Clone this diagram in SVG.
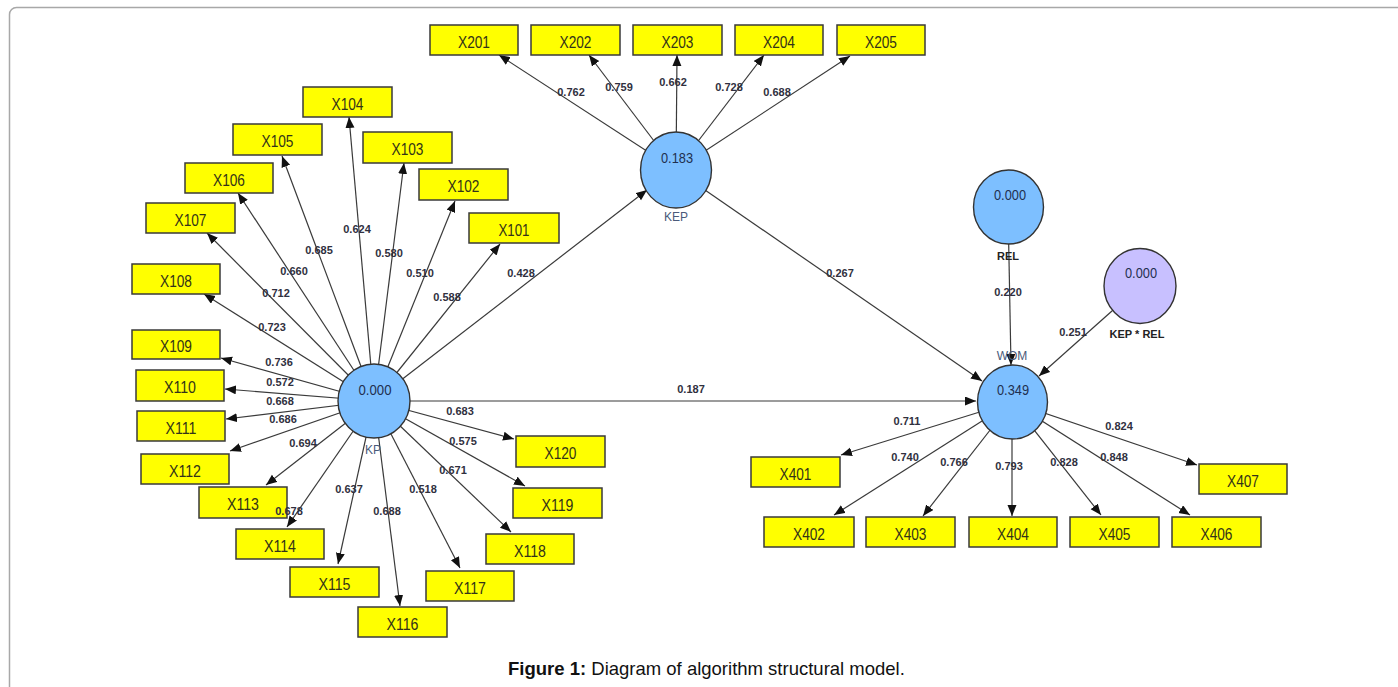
<svg xmlns="http://www.w3.org/2000/svg" width="1398" height="687" viewBox="0 0 1398 687">
<style>
.frame{fill:#fff;stroke:#a8a8a8;stroke-width:1.5}
.box{fill:#ffff00;stroke:#3a3a3a;stroke-width:1.5}
.bt{font-family:"Liberation Sans",Arial,sans-serif;font-size:16px;fill:#333318;text-anchor:middle}
.lv{fill:#7dbfff;stroke:#333;stroke-width:1.4}
.lv2{fill:#c8c0ff;stroke:#333;stroke-width:1.4}
.vt{font-family:"Liberation Sans",Arial,sans-serif;font-size:15.5px;fill:#1f2f4f;text-anchor:middle}
.nm{font-family:"Liberation Sans",Arial,sans-serif;font-size:12px;fill:#4a5a7a;text-anchor:middle}
.nmb{font-family:"Liberation Sans",Arial,sans-serif;font-size:11px;font-weight:bold;fill:#222;text-anchor:middle}
.ln{stroke:#3a3a3a;stroke-width:1.2;fill:none;marker-end:url(#ah)}
.cf{font-family:"Liberation Sans",Arial,sans-serif;font-size:11px;font-weight:bold;fill:#30303e;text-anchor:middle}
.cap{font-family:"Liberation Sans",Arial,sans-serif;font-size:18.5px;fill:#111}
</style>
<defs>
<marker id="ah" markerUnits="userSpaceOnUse" markerWidth="12" markerHeight="10" refX="11" refY="4.5" orient="auto">
<path d="M0,0 L11,4.5 L0,9 z" fill="#111"/>
</marker>
</defs>
<rect class="frame" x="9.5" y="7.5" width="1400" height="700" rx="7"/>
<g id="connectors">
<line class="ln" x1="374" y1="401" x2="500" y2="244"/>
<line class="ln" x1="374" y1="401" x2="455" y2="201"/>
<line class="ln" x1="374" y1="401" x2="404" y2="163"/>
<line class="ln" x1="374" y1="401" x2="349" y2="117"/>
<line class="ln" x1="374" y1="401" x2="282" y2="156"/>
<line class="ln" x1="374" y1="401" x2="238" y2="193"/>
<line class="ln" x1="374" y1="401" x2="207" y2="233"/>
<line class="ln" x1="374" y1="401" x2="204" y2="294"/>
<line class="ln" x1="374" y1="401" x2="221" y2="358"/>
<line class="ln" x1="374" y1="401" x2="225" y2="389"/>
<line class="ln" x1="374" y1="401" x2="226" y2="419"/>
<line class="ln" x1="374" y1="401" x2="230" y2="451"/>
<line class="ln" x1="374" y1="401" x2="266" y2="485"/>
<line class="ln" x1="374" y1="401" x2="287" y2="527"/>
<line class="ln" x1="374" y1="401" x2="338" y2="564"/>
<line class="ln" x1="374" y1="401" x2="400" y2="606"/>
<line class="ln" x1="374" y1="401" x2="460" y2="568"/>
<line class="ln" x1="374" y1="401" x2="511" y2="532"/>
<line class="ln" x1="374" y1="401" x2="525" y2="486"/>
<line class="ln" x1="374" y1="401" x2="514" y2="439"/>
<line class="ln" x1="374" y1="401" x2="647" y2="190"/>
<line class="ln" x1="374" y1="401" x2="976" y2="401"/>
<line class="ln" x1="676" y1="170" x2="499" y2="55"/>
<line class="ln" x1="676" y1="170" x2="589" y2="55"/>
<line class="ln" x1="676" y1="170" x2="677" y2="55"/>
<line class="ln" x1="676" y1="170" x2="764" y2="55"/>
<line class="ln" x1="676" y1="170" x2="850" y2="56"/>
<line class="ln" x1="676" y1="170" x2="982" y2="381"/>
<line class="ln" x1="1012" y1="402" x2="841" y2="455"/>
<line class="ln" x1="1012" y1="402" x2="834" y2="515"/>
<line class="ln" x1="1012" y1="402" x2="923" y2="516"/>
<line class="ln" x1="1012" y1="402" x2="1012" y2="516"/>
<line class="ln" x1="1012" y1="402" x2="1101" y2="515"/>
<line class="ln" x1="1012" y1="402" x2="1190" y2="515"/>
<line class="ln" x1="1012" y1="402" x2="1197" y2="465"/>
<line class="ln" x1="1008" y1="207" x2="1011" y2="365"/>
<line class="ln" x1="1140" y1="286" x2="1039" y2="376"/>
</g>
<g id="KP"><ellipse class="lv" cx="374" cy="401" rx="36" ry="37"/><text class="vt" x="375" y="395" textLength="33" lengthAdjust="spacingAndGlyphs">0.000</text><text class="nm" x="373" y="454">KP</text></g>
<g id="KEP"><ellipse class="lv" cx="676" cy="170" rx="35.5" ry="38"/><text class="vt" x="677" y="163" textLength="32" lengthAdjust="spacingAndGlyphs">0.183</text><text class="nm" x="676" y="221">KEP</text></g>
<g id="WOM"><ellipse class="lv" cx="1012.5" cy="402" rx="35" ry="37"/><text class="vt" x="1013" y="395" textLength="32" lengthAdjust="spacingAndGlyphs">0.349</text><text class="nm" x="1012" y="360">WOM</text></g>
<g id="REL"><ellipse class="lv" cx="1008.5" cy="207" rx="35" ry="37"/><text class="vt" x="1010" y="200" textLength="32" lengthAdjust="spacingAndGlyphs">0.000</text><text class="nmb" x="1008" y="260">REL</text></g>
<g id="KEPxREL"><ellipse class="lv2" cx="1140" cy="286" rx="36" ry="37.5"/><text class="vt" x="1141" y="278" textLength="32" lengthAdjust="spacingAndGlyphs">0.000</text><text class="nmb" x="1137" y="338">KEP * REL</text></g>
<g id="X201"><rect class="box" x="430" y="25" width="88" height="30"/><text class="bt" x="474" y="47.5" textLength="32" lengthAdjust="spacingAndGlyphs">X201</text></g>
<g id="X202"><rect class="box" x="531" y="25" width="89" height="30"/><text class="bt" x="575.5" y="47.5" textLength="32" lengthAdjust="spacingAndGlyphs">X202</text></g>
<g id="X203"><rect class="box" x="633" y="25" width="89" height="30"/><text class="bt" x="677.5" y="47.5" textLength="32" lengthAdjust="spacingAndGlyphs">X203</text></g>
<g id="X204"><rect class="box" x="735" y="25" width="88" height="30"/><text class="bt" x="779" y="47.5" textLength="32" lengthAdjust="spacingAndGlyphs">X204</text></g>
<g id="X205"><rect class="box" x="837" y="25" width="88" height="30"/><text class="bt" x="881" y="47.5" textLength="32" lengthAdjust="spacingAndGlyphs">X205</text></g>
<g id="X104"><rect class="box" x="303" y="87" width="89" height="30"/><text class="bt" x="347.5" y="109.5" textLength="32" lengthAdjust="spacingAndGlyphs">X104</text></g>
<g id="X105"><rect class="box" x="233" y="124" width="89" height="31"/><text class="bt" x="277.5" y="147" textLength="32" lengthAdjust="spacingAndGlyphs">X105</text></g>
<g id="X103"><rect class="box" x="363" y="132" width="89" height="31"/><text class="bt" x="407.5" y="155" textLength="32" lengthAdjust="spacingAndGlyphs">X103</text></g>
<g id="X106"><rect class="box" x="185" y="163" width="88" height="30"/><text class="bt" x="229" y="185.5" textLength="32" lengthAdjust="spacingAndGlyphs">X106</text></g>
<g id="X102"><rect class="box" x="419" y="169" width="89" height="31"/><text class="bt" x="463.5" y="192" textLength="32" lengthAdjust="spacingAndGlyphs">X102</text></g>
<g id="X107"><rect class="box" x="146" y="203" width="89" height="30"/><text class="bt" x="190.5" y="225.5" textLength="32" lengthAdjust="spacingAndGlyphs">X107</text></g>
<g id="X101"><rect class="box" x="469" y="213" width="90" height="30"/><text class="bt" x="514" y="235.5" textLength="31" lengthAdjust="spacingAndGlyphs">X101</text></g>
<g id="X108"><rect class="box" x="132" y="264" width="88" height="30"/><text class="bt" x="176" y="286.5" textLength="32" lengthAdjust="spacingAndGlyphs">X108</text></g>
<g id="X109"><rect class="box" x="132" y="330" width="88" height="29"/><text class="bt" x="176" y="352" textLength="32" lengthAdjust="spacingAndGlyphs">X109</text></g>
<g id="X110"><rect class="box" x="136" y="370" width="88" height="31"/><text class="bt" x="180" y="393" textLength="32" lengthAdjust="spacingAndGlyphs">X110</text></g>
<g id="X111"><rect class="box" x="137" y="411" width="88" height="30"/><text class="bt" x="181" y="433.5" textLength="31" lengthAdjust="spacingAndGlyphs">X111</text></g>
<g id="X112"><rect class="box" x="141" y="454" width="88" height="30"/><text class="bt" x="185" y="476.5" textLength="32" lengthAdjust="spacingAndGlyphs">X112</text></g>
<g id="X113"><rect class="box" x="199" y="487" width="88" height="31"/><text class="bt" x="243" y="510" textLength="32" lengthAdjust="spacingAndGlyphs">X113</text></g>
<g id="X114"><rect class="box" x="236" y="529" width="88" height="30"/><text class="bt" x="280" y="551.5" textLength="32" lengthAdjust="spacingAndGlyphs">X114</text></g>
<g id="X115"><rect class="box" x="290" y="567" width="89" height="30"/><text class="bt" x="334.5" y="589.5" textLength="32" lengthAdjust="spacingAndGlyphs">X115</text></g>
<g id="X116"><rect class="box" x="358" y="607" width="89" height="30"/><text class="bt" x="402.5" y="629.5" textLength="32" lengthAdjust="spacingAndGlyphs">X116</text></g>
<g id="X117"><rect class="box" x="426" y="571" width="88" height="30"/><text class="bt" x="470" y="593.5" textLength="32" lengthAdjust="spacingAndGlyphs">X117</text></g>
<g id="X118"><rect class="box" x="486" y="534" width="88" height="30"/><text class="bt" x="530" y="556.5" textLength="32" lengthAdjust="spacingAndGlyphs">X118</text></g>
<g id="X119"><rect class="box" x="513" y="488" width="89" height="30"/><text class="bt" x="557.5" y="510.5" textLength="32" lengthAdjust="spacingAndGlyphs">X119</text></g>
<g id="X120"><rect class="box" x="516" y="436" width="89" height="31"/><text class="bt" x="560.5" y="459" textLength="32" lengthAdjust="spacingAndGlyphs">X120</text></g>
<g id="X401"><rect class="box" x="751" y="457" width="89" height="30"/><text class="bt" x="795.5" y="479.5" textLength="32" lengthAdjust="spacingAndGlyphs">X401</text></g>
<g id="X402"><rect class="box" x="764" y="517" width="90" height="30"/><text class="bt" x="809" y="539.5" textLength="32" lengthAdjust="spacingAndGlyphs">X402</text></g>
<g id="X403"><rect class="box" x="866" y="517" width="89" height="30"/><text class="bt" x="910.5" y="539.5" textLength="32" lengthAdjust="spacingAndGlyphs">X403</text></g>
<g id="X404"><rect class="box" x="969" y="517" width="88" height="30"/><text class="bt" x="1013" y="539.5" textLength="32" lengthAdjust="spacingAndGlyphs">X404</text></g>
<g id="X405"><rect class="box" x="1070" y="517" width="89" height="30"/><text class="bt" x="1114.5" y="539.5" textLength="32" lengthAdjust="spacingAndGlyphs">X405</text></g>
<g id="X406"><rect class="box" x="1172" y="517" width="89" height="30"/><text class="bt" x="1216.5" y="539.5" textLength="32" lengthAdjust="spacingAndGlyphs">X406</text></g>
<g id="X407"><rect class="box" x="1199" y="464" width="88" height="30"/><text class="bt" x="1243" y="486.5" textLength="32" lengthAdjust="spacingAndGlyphs">X407</text></g>
<g id="connector-labels">
<text class="cf" x="357" y="233">0.624</text>
<text class="cf" x="319" y="254">0.685</text>
<text class="cf" x="389" y="257">0.580</text>
<text class="cf" x="294" y="275">0.660</text>
<text class="cf" x="420" y="277">0.510</text>
<text class="cf" x="276" y="297">0.712</text>
<text class="cf" x="447" y="301">0.588</text>
<text class="cf" x="521" y="277">0.428</text>
<text class="cf" x="272" y="331">0.723</text>
<text class="cf" x="279" y="366">0.736</text>
<text class="cf" x="280" y="386">0.572</text>
<text class="cf" x="280" y="405">0.668</text>
<text class="cf" x="283" y="423">0.686</text>
<text class="cf" x="303" y="447">0.694</text>
<text class="cf" x="289" y="515">0.678</text>
<text class="cf" x="349" y="493">0.637</text>
<text class="cf" x="387" y="515">0.688</text>
<text class="cf" x="423" y="493">0.518</text>
<text class="cf" x="453" y="474">0.671</text>
<text class="cf" x="463" y="445">0.575</text>
<text class="cf" x="460" y="415">0.683</text>
<text class="cf" x="691" y="393">0.187</text>
<text class="cf" x="840" y="277">0.267</text>
<text class="cf" x="571" y="96">0.762</text>
<text class="cf" x="619" y="91">0.759</text>
<text class="cf" x="673" y="86">0.662</text>
<text class="cf" x="729" y="91">0.728</text>
<text class="cf" x="777" y="96">0.688</text>
<text class="cf" x="907" y="425">0.711</text>
<text class="cf" x="905" y="461">0.740</text>
<text class="cf" x="954" y="466">0.766</text>
<text class="cf" x="1009" y="470">0.793</text>
<text class="cf" x="1064" y="466">0.828</text>
<text class="cf" x="1114" y="461">0.848</text>
<text class="cf" x="1119" y="430">0.824</text>
<text class="cf" x="1008" y="296">0.220</text>
<text class="cf" x="1073" y="336">0.251</text>
</g>
<text class="cap" x="508" y="675"><tspan font-weight="bold">Figure 1:</tspan> Diagram of algorithm structural model.</text>
</svg>
